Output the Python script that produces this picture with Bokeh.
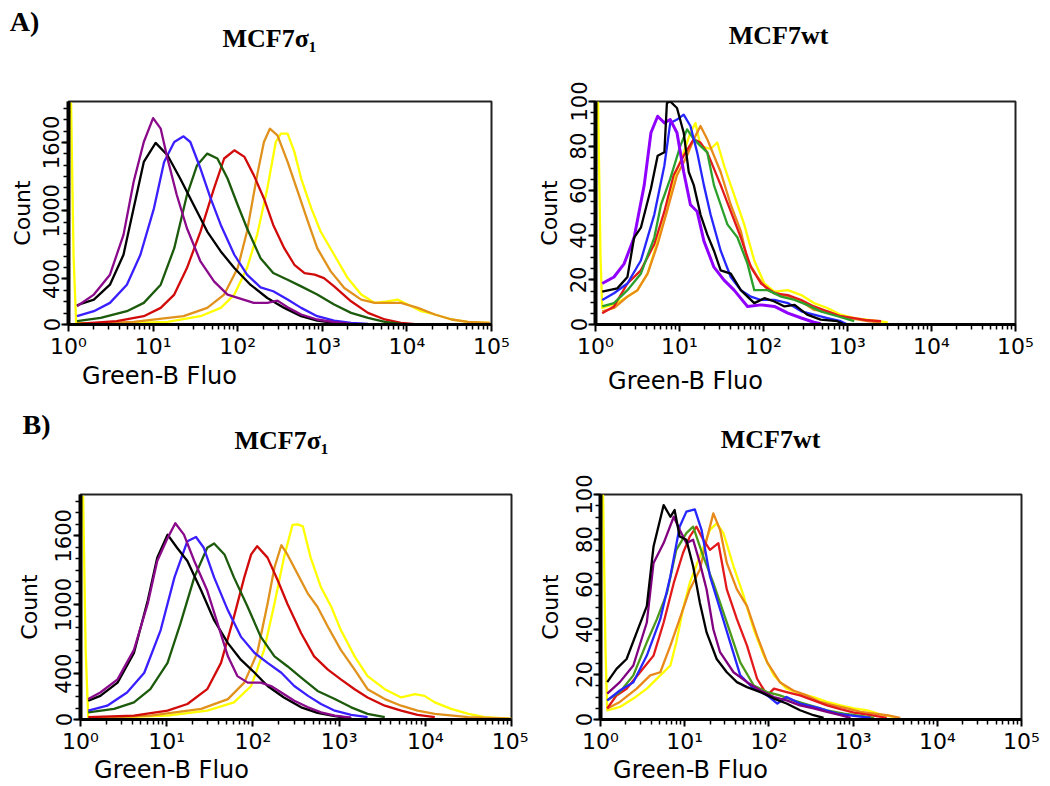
from bokeh.plotting import figure
from bokeh.layouts import column, row
from bokeh.models import FixedTicker, Range1d
from bokeh.core.properties import value
from bokeh.embed import file_html
from bokeh.resources import INLINE

# ---------------- data (x as log10 of Green-B fluorescence, y = count) ----------------
# Panel A, MCF7sigma1
a1_purple_lx = [0.10,0.30,0.49,0.65,0.77,0.89,1.00,1.09,1.17,1.28,1.40,1.56,1.72,1.88,2.04,2.19,2.35,2.47,2.59,2.75,2.94,3.14,3.34]
a1_purple_y  = [160,263,438,788,1254,1604,1814,1721,1459,1138,846,554,379,263,225,190,190,210,152,88,44,20,6]
a1_black_lx = [0.10,0.30,0.49,0.65,0.77,0.89,1.03,1.17,1.32,1.48,1.64,1.80,1.96,2.15,2.35,2.55,2.75,2.94,3.14]
a1_black_y  = [169,219,350,613,1021,1429,1596,1488,1283,1050,817,642,496,350,233,146,73,35,15]
a1_blue_lx = [0.10,0.30,0.49,0.69,0.85,1.01,1.13,1.25,1.36,1.44,1.56,1.68,1.80,1.96,2.11,2.27,2.42,2.59,2.75,2.94,3.14,3.34,3.54]
a1_blue_y  = [73,117,190,350,613,1021,1429,1604,1654,1604,1371,1108,875,613,438,327,292,219,146,73,35,15,6]
a1_green_lx = [0.10,0.38,0.69,0.89,1.09,1.25,1.40,1.52,1.64,1.76,1.88,2.00,2.11,2.27,2.42,2.59,2.75,2.94,3.14,3.34,3.54,3.74,3.93]
a1_green_y  = [29,58,117,190,350,671,1138,1400,1502,1459,1283,1050,846,583,452,394,335,263,175,102,58,23,6]
a1_red_lx = [0.10,0.57,0.89,1.09,1.25,1.40,1.56,1.72,1.84,1.96,2.08,2.19,2.31,2.42,2.55,2.67,2.79,2.91,3.02,3.14,3.34,3.54,3.74,3.93,4.13]
a1_red_y  = [6,29,73,146,263,496,817,1196,1459,1531,1473,1313,1108,875,671,525,452,438,408,335,204,102,44,15,0]
a1_orange_lx = [0.10,0.77,1.36,1.64,1.84,2.00,2.11,2.23,2.31,2.38,2.47,2.59,2.71,2.83,2.94,3.10,3.26,3.46,3.62,3.77,3.93,4.13,4.33,4.53,4.72,4.98]
a1_orange_y  = [6,23,73,146,263,496,817,1313,1604,1721,1663,1429,1167,904,671,467,321,219,190,190,190,146,88,44,23,15]
a1_yellow_lx = [0.03,0.06,0.09,0.38,1.17,1.56,1.80,1.96,2.11,2.23,2.35,2.45,2.51,2.59,2.67,2.75,2.87,2.98,3.14,3.30,3.46,3.62,3.77,3.89,4.01,4.17,4.33,4.53,4.72,4.98]
a1_yellow_y  = [1950,600,15,6,23,73,146,263,496,788,1196,1604,1677,1677,1517,1283,1021,817,613,408,263,190,204,219,175,117,88,44,23,15]

# Panel A, MCF7wt
a2_purple_lx = [0.08,0.22,0.34,0.46,0.58,0.66,0.74,0.82,0.89,0.97,1.05,1.13,1.21,1.29,1.41,1.53,1.65,1.81,1.97,2.13,2.29,2.45,2.60,2.68]
a2_purple_y  = [18.4,21.3,27.2,39.0,62.5,86.0,93.4,90.4,91.9,86.0,68.4,53.7,50.7,37.5,25.7,19.9,15.4,8.1,8.8,8.1,5.1,2.9,1.0,0.3]
a2_black_lx = [0.08,0.26,0.38,0.46,0.54,0.66,0.74,0.82,0.85,0.89,0.97,1.05,1.11,1.17,1.25,1.33,1.41,1.49,1.61,1.73,1.89,2.01,2.13,2.25,2.37,2.52,2.68,2.88,2.96]
a2_black_y  = [14.7,16.2,21.3,39.0,43.4,61.0,75.7,77.2,99.3,100,97.1,86.0,68.4,62.5,49.3,40.4,33.1,24.3,22.8,15.4,9.6,11.8,10.3,8.1,8.8,4.4,2.2,1.5,0]
a2_blue_lx = [0.08,0.22,0.38,0.54,0.70,0.82,0.89,0.97,1.05,1.13,1.21,1.29,1.37,1.49,1.61,1.73,1.85,1.97,2.13,2.29,2.45,2.60,2.76,2.92,3.00]
a2_blue_y  = [11.0,14.0,18.4,28.7,49.3,71.3,90.4,91.9,94.1,89.0,77.2,62.5,49.3,33.1,21.3,15.4,12.5,11.0,11.0,9.6,5.9,4.4,2.9,1.5,0]
a2_green_lx = [0.08,0.22,0.38,0.54,0.70,0.78,0.89,1.01,1.09,1.17,1.25,1.33,1.41,1.49,1.57,1.69,1.81,1.89,2.05,2.21,2.37,2.52,2.68,2.88,3.08]
a2_green_y  = [8.1,9.6,15.4,22.8,39.0,53.7,65.4,80.1,87.5,83.1,80.1,77.2,62.5,53.7,44.9,39.0,27.2,15.4,15.4,12.5,11.0,8.8,5.9,3.7,1.5]
a2_red_lx = [0.08,0.22,0.38,0.54,0.70,0.82,0.93,1.05,1.17,1.25,1.33,1.41,1.49,1.61,1.73,1.85,1.97,2.13,2.29,2.45,2.60,2.76,2.92,3.08,3.24,3.40]
a2_red_y  = [5.1,8.1,18.4,24.3,36.0,50.7,66.9,75.7,83.1,81.6,77.2,69.9,62.5,50.7,39.0,25.7,18.4,14.0,13.2,11.0,8.1,5.9,3.7,2.9,1.9,1.5]
a2_orange_lx = [0.08,0.22,0.38,0.50,0.62,0.74,0.85,0.97,1.09,1.17,1.25,1.33,1.41,1.49,1.61,1.73,1.81,1.93,2.05,2.17,2.29,2.45,2.60,2.76,2.92,3.08,3.24,3.40]
a2_orange_y  = [5.9,7.4,12.5,15.4,22.8,36.0,50.7,66.9,75.7,83.1,89.0,83.1,75.7,68.4,53.7,41.9,28.7,21.3,15.4,14.0,12.5,10.3,6.6,5.9,3.7,2.5,1.5,1.0]
a2_yellow_lx = [0.03,0.06,0.08,0.26,0.50,0.62,0.74,0.85,0.93,1.05,1.13,1.19,1.25,1.37,1.45,1.53,1.65,1.77,1.89,2.01,2.13,2.29,2.45,2.60,2.76,2.92,3.08,3.28,3.48]
a2_yellow_y  = [100,30,7.4,9.6,15.4,22.8,37.5,50.7,65.4,77.2,86.0,90.4,80.1,78.7,81.6,71.3,58.1,44.9,28.7,18.4,14.7,15.4,13.2,9.6,7.4,4.4,2.9,1.9,1.0]

# Panel B, MCF7sigma1
b1_black_lx = [0.09,0.23,0.43,0.62,0.78,0.89,1.01,1.12,1.24,1.40,1.55,1.71,1.86,2.02,2.17,2.36,2.56,2.75,2.95,3.14]
b1_black_y  = [163,206,321,579,1037,1410,1610,1496,1381,1123,865,665,521,407,292,192,106,57,29,11]
b1_purple_lx = [0.09,0.23,0.43,0.62,0.78,0.89,1.01,1.10,1.20,1.32,1.47,1.59,1.71,1.82,1.94,2.09,2.21,2.33,2.48,2.64,2.79,2.95,3.14]
b1_purple_y  = [178,235,350,607,1008,1381,1580,1710,1610,1381,1123,837,550,378,321,321,292,235,163,106,63,34,17]
b1_blue_lx = [0.09,0.31,0.54,0.74,0.93,1.09,1.24,1.34,1.43,1.55,1.71,1.86,2.02,2.17,2.33,2.48,2.64,2.79,2.95,3.14,3.33]
b1_blue_y  = [77,120,235,407,779,1238,1553,1590,1496,1238,951,722,579,493,407,292,206,135,77,40,20]
b1_green_lx = [0.09,0.39,0.62,0.81,1.01,1.16,1.32,1.47,1.55,1.67,1.78,1.94,2.09,2.25,2.40,2.56,2.75,2.95,3.14,3.33,3.53]
b1_green_y  = [63,92,149,264,493,837,1238,1496,1533,1438,1238,980,722,550,464,364,249,178,106,49,20]
b1_red_lx = [0.09,0.62,1.01,1.24,1.47,1.63,1.78,1.90,1.98,2.05,2.17,2.29,2.40,2.56,2.71,2.87,3.02,3.18,3.33,3.53,3.72,3.91,4.11]
b1_red_y  = [20,34,77,135,264,493,894,1238,1438,1510,1410,1209,1008,751,550,435,350,264,192,120,77,40,20]
b1_orange_lx = [0.09,0.81,1.40,1.71,1.90,2.05,2.17,2.25,2.33,2.40,2.52,2.64,2.75,2.87,3.02,3.18,3.33,3.53,3.72,3.91,4.11,4.50,5.00]
b1_orange_y  = [11,34,92,178,321,579,1008,1324,1518,1438,1266,1094,980,808,607,435,264,178,120,77,49,20,6]
b1_yellow_lx = [0.03,0.06,0.09,1.01,1.47,1.78,1.98,2.13,2.25,2.36,2.46,2.52,2.58,2.67,2.79,2.91,3.02,3.18,3.33,3.53,3.72,3.88,3.99,4.11,4.30,4.50,4.69,5.00]
b1_yellow_y  = [1950,600,11,34,77,149,292,607,1008,1410,1696,1700,1682,1410,1152,980,779,550,378,264,192,221,206,149,92,49,20,6]

# Panel B, MCF7wt
b2_black_lx = [0.08,0.19,0.31,0.43,0.55,0.63,0.75,0.83,0.88,0.94,1.02,1.10,1.18,1.26,1.38,1.50,1.62,1.74,1.90,2.06,2.21,2.37,2.53,2.65]
b2_black_y  = [16.6,22.5,26.9,38.7,50.4,76.9,95.3,90.1,93.1,81.3,79.9,68.1,51.9,38.7,26.9,21.0,16.6,14.4,12.2,9.3,7.1,4.1,1.9,0.7]
b2_purple_lx = [0.08,0.23,0.39,0.55,0.63,0.75,0.87,0.94,1.02,1.10,1.18,1.26,1.34,1.42,1.58,1.74,1.90,2.06,2.21,2.37,2.53,2.69,2.85,2.97]
b2_purple_y  = [11.5,16.6,24.0,43.1,69.6,78.4,90.1,84.3,78.4,79.9,69.6,57.8,40.1,29.9,21.0,16.6,12.9,10.0,8.5,6.3,4.9,3.4,1.9,0.7]
b2_blue_lx = [0.08,0.23,0.39,0.55,0.71,0.83,0.94,1.02,1.12,1.20,1.30,1.42,1.54,1.66,1.82,1.98,2.10,2.21,2.37,2.61,2.81,3.01,3.21]
b2_blue_y  = [8.5,12.9,16.6,28.4,44.6,63.7,85.7,92.4,93.4,84.3,63.7,49.0,34.3,19.6,13.7,10.7,7.1,10.0,7.1,4.9,2.6,1.6,0.7]
b2_green_lx = [0.08,0.23,0.39,0.55,0.67,0.79,0.90,1.02,1.10,1.22,1.34,1.42,1.54,1.66,1.82,1.98,2.13,2.29,2.49,2.69,2.89,3.09,3.25]
b2_green_y  = [8.5,12.2,19.6,34.3,44.6,56.3,75.4,82.8,85.7,72.5,60.7,51.9,38.7,25.4,15.1,12.2,10.7,8.5,6.3,4.1,2.6,1.6,0.7]
b2_red_lx = [0.08,0.19,0.31,0.47,0.63,0.75,0.87,0.98,1.06,1.14,1.22,1.30,1.40,1.50,1.62,1.74,1.86,1.98,2.06,2.21,2.37,2.53,2.69,2.85,3.01,3.21,3.40]
b2_red_y  = [4.9,10.7,13.7,21.0,28.4,43.1,60.7,74.0,81.3,85.7,79.9,75.4,78.4,57.8,44.6,32.8,18.1,10.7,13.7,12.2,10.7,8.5,6.3,4.6,3.1,1.9,0.7]
b2_orange_lx = [0.08,0.23,0.43,0.59,0.71,0.83,0.94,1.06,1.18,1.26,1.34,1.42,1.50,1.62,1.74,1.86,1.98,2.13,2.29,2.45,2.61,2.77,2.93,3.09,3.25,3.40,3.56]
b2_orange_y  = [4.9,7.8,13.7,19.6,21.0,32.8,44.6,57.8,66.6,79.9,91.6,84.3,69.6,57.8,50.4,37.2,25.4,16.6,12.9,10.7,7.8,6.3,4.9,3.4,2.6,1.9,0.7]
b2_yellow_lx = [0.03,0.06,0.08,0.23,0.39,0.55,0.71,0.83,0.90,0.98,1.06,1.18,1.30,1.38,1.46,1.58,1.70,1.82,1.94,2.06,2.21,2.37,2.53,2.69,2.85,3.01,3.17,3.33,3.48]
b2_yellow_y  = [100,30,4.1,5.6,9.3,13.7,19.6,24.0,34.3,49.0,60.7,72.5,84.3,87.2,82.8,68.1,54.9,40.1,28.4,19.6,13.7,11.5,10.0,7.8,6.3,4.9,4.1,2.2,1.2]

x_ticks = [1, 10, 100, 1000, 10000, 100000]
x_tick_labels = ["10\u2070", "10\u00b9", "10\u00b2", "10\u00b3", "10\u2074", "10\u2075"]
sig_y_ticks = [0, 400, 1000, 1600]
wt_y_ticks = [0, 20, 40, 60, 80, 100]
panel_titles = ["MCF7\u03c3\u2081", "MCF7wt"]
panel_tags = ["A)", "B)"]
x_label = "Green-B Fluo"
y_label = "Count"

# ---------------- styling ----------------
C_SIG = {"purple": "#8B0A8B", "black": "#000000", "blue": "#3A1FFF", "green": "#1C5A0C",
         "red": "#D10A0A", "orange": "#E0921C", "yellow": "#FFFF00"}
C_WT_A = {"purple": "#8F00FF", "black": "#000000", "blue": "#2626FF", "green": "#2CA02C",
          "red": "#E31A1C", "orange": "#E8891A", "yellow": "#FFFF00"}
C_WT_B = {"purple": "#800080", "black": "#000000", "blue": "#2626FF", "green": "#4C9A1A",
          "red": "#E31A1C", "orange": "#E8891A", "yellow": "#FFFF00"}

SANS = "DejaVu Sans"
SERIF = "Liberation Serif"
minor_x = [k * 10 ** e for e in range(5) for k in range(2, 10)]
TOTAL_W = 1042


def make_panel(width, height, borders, ymax, yticks, yminor, ystandoff):
    mbl, mbr, mbt, mbb = borders
    p = figure(width=width, height=height, x_axis_type="log",
               x_range=Range1d(1, 1e5), y_range=Range1d(0, ymax),
               output_backend="svg", toolbar_location=None,
               min_border_left=mbl, min_border_right=mbr,
               min_border_top=mbt, min_border_bottom=mbb)
    p.xgrid.visible = False
    p.ygrid.visible = False
    p.outline_line_color = "#222222"
    p.outline_line_width = 2

    xa = p.xaxis[0]
    xa.ticker = FixedTicker(ticks=x_ticks, minor_ticks=minor_x)
    xa.major_label_overrides = {float(t): s for t, s in zip(x_ticks, x_tick_labels)}
    xa.axis_line_width = 3
    xa.major_tick_out = 7
    xa.major_tick_in = 0
    xa.minor_tick_out = 5
    xa.minor_tick_in = 0
    xa.major_tick_line_width = 2
    xa.minor_tick_line_width = 1.5
    xa.major_label_text_font = SANS
    xa.major_label_text_font_size = "22px"
    xa.major_label_text_color = "black"
    xa.major_label_standoff = 2

    ya = p.yaxis[0]
    ya.ticker = FixedTicker(ticks=yticks, minor_ticks=yminor)
    ya.axis_label = y_label
    ya.axis_line_width = 4
    ya.major_tick_out = 7
    ya.major_tick_in = 0
    ya.minor_tick_out = 5
    ya.minor_tick_in = 0
    ya.major_tick_line_width = 2
    ya.minor_tick_line_width = 1.5
    ya.major_label_orientation = "vertical"
    ya.major_label_text_font = SANS
    ya.major_label_text_font_size = "21px"
    ya.major_label_text_color = "black"
    ya.major_label_standoff = 2
    ya.axis_label_text_font = SANS
    ya.axis_label_text_font_size = "22px"
    ya.axis_label_text_font_style = "normal"
    ya.axis_label_text_color = "black"
    ya.axis_label_standoff = ystandoff
    return p


def make_band(height):
    b = figure(width=TOTAL_W, height=height, x_range=Range1d(0, TOTAL_W), y_range=Range1d(height, 0),
               output_backend="svg", toolbar_location=None,
               x_axis_location=None, y_axis_location=None,
               min_border_left=0, min_border_right=0, min_border_top=0, min_border_bottom=0)
    b.xgrid.visible = False
    b.ygrid.visible = False
    b.outline_line_color = None
    return b


def band_text(b, xs, ys, texts, font, style, size):
    b.text(x=xs, y=ys, text=texts, text_font=value(font), text_font_style=style,
           text_font_size=size, text_color="black", text_align="center", text_baseline="middle")


def add_curves(p, series, colors, order, widths=None):
    for name in order:
        lx, yv = series[name]
        xs = [10 ** v for v in lx]
        lw = (widths or {}).get(name, 2.3)
        p.line(xs, yv, line_color=colors[name], line_width=lw, line_join="round")


sig_minor = list(range(0, 2000, 100))
wt_minor = list(range(0, 101, 5))

# ---- band with row-A titles ----
band1 = make_band(60)
band_text(band1, [24], [21], [panel_tags[0]], SERIF, "bold", "28px")
band_text(band1, [269, 778], [38, 35], [panel_titles[0], panel_titles[1]], SERIF, "bold", "26px")

# ---- Panel A left ----
pA1 = make_panel(528, 302, (68, 37, 39, 38), 1960, sig_y_ticks, sig_minor, 6)
add_curves(pA1, {"purple": (a1_purple_lx, a1_purple_y), "black": (a1_black_lx, a1_black_y),
                 "blue": (a1_blue_lx, a1_blue_y), "green": (a1_green_lx, a1_green_y),
                 "red": (a1_red_lx, a1_red_y), "orange": (a1_orange_lx, a1_orange_y),
                 "yellow": (a1_yellow_lx, a1_yellow_y)},
           C_SIG, ["yellow", "orange", "red", "green", "blue", "black", "purple"])

# ---- Panel A right ----
pA2 = make_panel(514, 302, (67, 27, 41, 35), 100, wt_y_ticks, wt_minor, 6)
add_curves(pA2, {"purple": (a2_purple_lx, a2_purple_y), "black": (a2_black_lx, a2_black_y),
                 "blue": (a2_blue_lx, a2_blue_y), "green": (a2_green_lx, a2_green_y),
                 "red": (a2_red_lx, a2_red_y), "orange": (a2_orange_lx, a2_orange_y),
                 "yellow": (a2_yellow_lx, a2_yellow_y)},
           C_WT_A, ["yellow", "orange", "red", "green", "blue", "purple", "black"],
           widths={"purple": 3})

# ---- band with row-A x labels and row-B titles ----
band2 = make_band(96)
band_text(band2, [159, 685], [13, 18], [x_label, x_label], SANS, "normal", "24px")
band_text(band2, [36], [62], [panel_tags[1]], SERIF, "bold", "28px")
band_text(band2, [281, 770], [78, 77], [panel_titles[0], panel_titles[1]], SERIF, "bold", "26px")

# ---- Panel B left ----
pB1 = make_panel(528, 298, (80, 17, 35, 35), 1960, sig_y_ticks, sig_minor, 11)
add_curves(pB1, {"purple": (b1_purple_lx, b1_purple_y), "black": (b1_black_lx, b1_black_y),
                 "blue": (b1_blue_lx, b1_blue_y), "green": (b1_green_lx, b1_green_y),
                 "red": (b1_red_lx, b1_red_y), "orange": (b1_orange_lx, b1_orange_y),
                 "yellow": (b1_yellow_lx, b1_yellow_y)},
           C_SIG, ["yellow", "orange", "red", "green", "blue", "black", "purple"])

# ---- Panel B right ----
pB2 = make_panel(514, 298, (72, 21, 36, 35), 100, wt_y_ticks, wt_minor, 10)
add_curves(pB2, {"purple": (b2_purple_lx, b2_purple_y), "black": (b2_black_lx, b2_black_y),
                 "blue": (b2_blue_lx, b2_blue_y), "green": (b2_green_lx, b2_green_y),
                 "red": (b2_red_lx, b2_red_y), "orange": (b2_orange_lx, b2_orange_y),
                 "yellow": (b2_yellow_lx, b2_yellow_y)},
           C_WT_B, ["yellow", "orange", "red", "green", "blue", "purple", "black"])

# ---- band with row-B x labels ----
band3 = make_band(26)
band_text(band3, [171, 690], [13, 13], [x_label, x_label], SANS, "normal", "24px")

layout = column(band1, row(pA1, pA2), band2, row(pB1, pB2), band3)
open("out.html", "w").write(file_html(layout, INLINE))
